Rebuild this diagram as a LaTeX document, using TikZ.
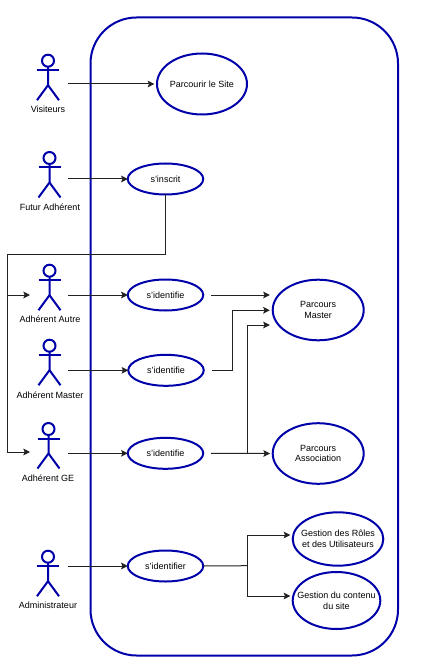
\documentclass[tikz,border=0pt]{standalone}
\usepackage{fontspec}
\setmainfont{Liberation Sans}
\usetikzlibrary{shapes.geometric,arrows.meta}
\definecolor{umlblue}{HTML}{0000AA}
\definecolor{wire}{HTML}{222222}
\tikzset{
  x=0.75pt,y=-0.75pt,
  every node/.style={font=\fontsize{6.75pt}{8pt}\selectfont,text=black},
  usecase/.style args={#1/#2/#3}{ellipse,draw=umlblue,line width=1.5pt,inner sep=0pt,outer sep=0pt,
     minimum width=#1*0.75pt,minimum height=#2*0.75pt,
     label={[align=center,inner sep=0pt]center:#3}},
  sysbox/.style={draw=umlblue,line width=1.5pt,rounded corners=34.5pt},
  stick/.style={draw=umlblue,line width=1.5pt},
  actorbox/.style={inner sep=0pt,outer sep=0pt,minimum width=15pt,minimum height=1pt},
  actorname/.style={inner sep=0pt},
  wirearrow/.style={draw=wire,line width=0.75pt,-{Stealth[length=5pt,width=5pt,inset=1pt]}},
  gaparrow/.style={wirearrow,shorten >=2pt},
  wireplain/.style={draw=wire,line width=0.75pt},
}
% #1 name, #2 body x, #3 head y, #4 connector y, #5 label y, #6 label x, #7 text
\newcommand{\umlactor}[7]{%
  \draw[stick] (#2,#3) circle[radius=6];
  \draw[stick] (#2-11,#3+9.5) -- (#2+11,#3+9.5);
  \draw[stick] (#2,#3+6) -- (#2,#3+24.5) -- (#2-11,#3+39.5);
  \draw[stick] (#2,#3+24.5) -- (#2+11,#3+39.5);
  \node[actorbox] (#1) at (#2,#4) {};
  \node[actorname] (#1label) at (#6,#5) {#7};
}
\begin{document}
\begin{tikzpicture}
\useasboundingbox (0,0) rectangle (432,670);
\fill[white] (0,0) rectangle (432,670);
\draw[sysbox] (90.5,17.5) rectangle (398,655.5);

\umlactor{vis}{48}{60.7}{84}{109}{48}{Visiteurs}
\umlactor{fut}{49.5}{158}{179}{207.5}{50}{Futur Adhérent}
\umlactor{aut}{49.5}{270.7}{295}{319.5}{50}{Adhérent Autre}
\umlactor{mas}{49.5}{345.7}{370.3}{395}{50}{Adhérent Master}
\umlactor{ge}{48.5}{429}{453.3}{478.5}{48}{Adhérent GE}
\umlactor{adm}{48}{556.7}{566}{605.5}{48}{Administrateur}

\node[usecase={90/61/Parcourir le Site}] (site) at (202,84) {};
\node[usecase={75.5/31/s'inscrit}] (ins) at (165.5,179) {};
\node[usecase={75.5/31/s'identifie}] (id1) at (165.5,295) {};
\node[usecase={75.5/31/s'identifie}] (id2) at (166,370.3) {};
\node[usecase={75.5/31/s'identifie}] (id3) at (165.5,453.3) {};
\node[usecase={75.5/31/s'identifier}] (id4) at (165.5,566) {};
\node[usecase={91/60.6/Parcours\\Master}] (pm) at (318.2,310) {};
\node[usecase={91/60.6/Parcours\\Association}] (pa) at (318.2,453.5) {};
\node[usecase={90.6/53.4/Gestion des Rôles\\et des Utilisateurs}] (gr) at (338,539) {};
\node[usecase={87.6/57/Gestion du contenu\\du site}] (gc) at (336.5,600.5) {};

\coordinate (leftrail) at (7.7,254);
\coordinate (upm1) at (272.5,295);
\coordinate (upm2) at (272.5,310.3);
\coordinate (upm3) at (272.5,325);
\coordinate (outm) at (212,370.3);
\coordinate (kneem) at (232.7,370.3);
\coordinate (out1) at (211,295);
\coordinate (out3) at (211,453.3);
\coordinate (kneea) at (247.7,453.3);
\coordinate (kneeg) at (247.3,565.7);
\coordinate (gri) at (293,535);
\coordinate (gci) at (293,596);

\draw[gaparrow] (68,0 |- vis) -- (site.west);
\draw[wirearrow] (68,0 |- fut) -- (ins.west);
\draw[wirearrow] (68,0 |- aut) -- (id1.west);
\draw[wirearrow] (68,0 |- mas) -- (id2.west);
\draw[wirearrow] (68,0 |- ge) -- (id3.west);
\draw[wirearrow] (68,0 |- adm) -- (id4.west);

\draw[wireplain] (ins.south) |- (leftrail) -- (7.7,295);
\draw[wirearrow] (7.7,254) -- (7.7,452) -- (30,452);
\draw[wirearrow] (7.7,295) -- (30,295);

\draw[gaparrow] (out1) -- (upm1);
\draw[gaparrow] (outm) -- (kneem) |- (upm2);
\draw[gaparrow] (out3) -- (pa.west);
\draw[gaparrow] (kneea) |- (upm3);
\draw[wireplain] (id4.east) -- (kneeg);
\draw[gaparrow] (kneeg) |- (gri);
\draw[gaparrow] (kneeg) |- (gci);
\end{tikzpicture}
\end{document}
